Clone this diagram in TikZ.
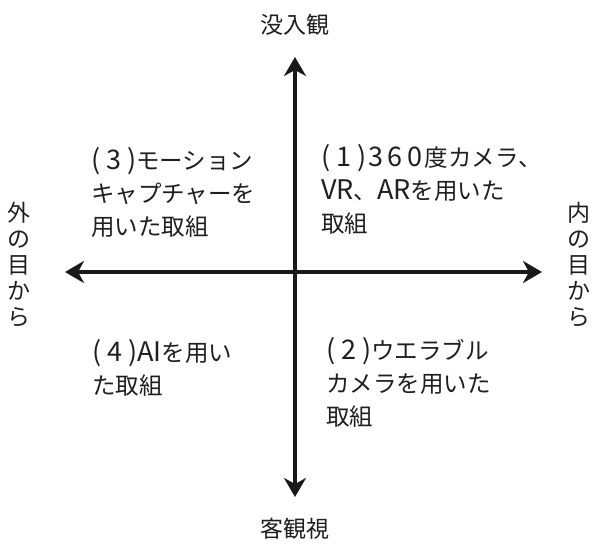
\documentclass[tikz,border=0pt]{standalone}
\usepackage{fontspec}
\newfontfamily\jp{Noto Sans CJK JP}
\usetikzlibrary{arrows.meta}
\newcommand{\Lf}{\fontsize{27}{33}\selectfont}
\newcommand{\pn}[1]{\makebox[15pt][l]{\Lf(}\makebox[15pt][c]{\Lf #1}\makebox[15pt][r]{\Lf)}}
\newcommand{\dg}[1]{\makebox[19.5pt][c]{\Lf #1}}
\begin{document}
\begin{tikzpicture}[x=1pt,y=-1pt,
  axis/.style={line width=4pt,color=black!90,-{Stealth[length=19pt,width=22pt,inset=6pt]}},
  quad/.style={anchor=base west,inner sep=0pt,align=left,font={\jp\fontsize{23.5}{33}\selectfont},text=black!88},
  lbl/.style={inner sep=0pt,align=center,font={\jp\fontsize{23}{26}\selectfont},text=black!88}]
\useasboundingbox (0,0) rectangle (595,547);
\coordinate (o) at (295,272);
\coordinate (top) at (295,57);
\coordinate (bot) at (295,497);
\coordinate (lft) at (65,272);
\coordinate (rgt) at (542,272);
\draw[axis] (o) -- (top);
\draw[axis] (o) -- (bot);
\draw[axis] (o) -- (lft);
\draw[axis] (o) -- (rgt);
\node[lbl] (t) at (295,25) {没入観};
\node[lbl] (b) at (295,529) {客観視};
\node[lbl] (l) at (19,265) {外\\の\\目\\か\\ら};
\node[lbl] (r) at (579,265) {内\\の\\目\\か\\ら};
\node[quad] (q3) at (91,235) {\pn{3}モーション\\キャプチャーを\\用いた取組};
\node[quad] (q1) at (321,232) {\pn{1}\dg{3}\dg{6}\dg{0}度カメラ、\\{\Lf VR}、{\Lf AR}を用いた\\取組};
\node[quad] (q4) at (92,394) {\pn{4}{\Lf AI}を用い\\た取組};
\node[quad] (q2) at (326,425) {\pn{2}ウエラブル\\カメラを用いた\\取組};
\end{tikzpicture}
\end{document}
